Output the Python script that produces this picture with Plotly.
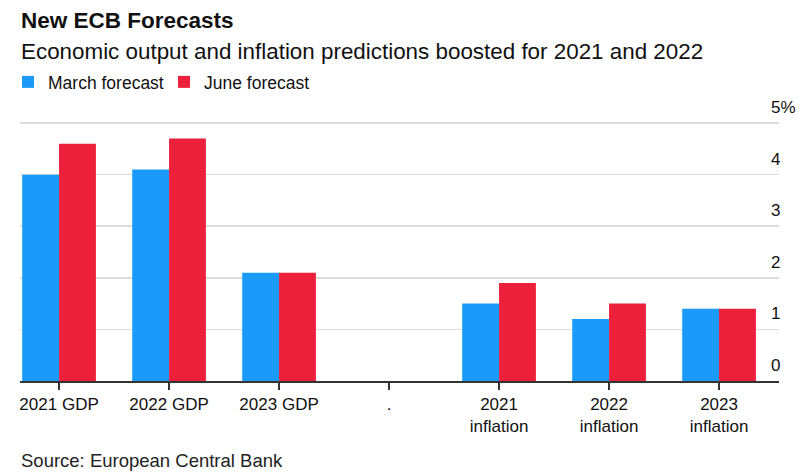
import plotly.graph_objects as go

categories = ["2021 GDP", "2022 GDP", "2023 GDP", ".", "2021<br>inflation", "2022<br>inflation", "2023<br>inflation"]
march = [4.0, 4.1, 2.1, None, 1.5, 1.2, 1.4]
june = [4.6, 4.7, 2.1, None, 1.9, 1.5, 1.4]
y_ticks = [0, 1, 2, 3, 4, 5]
y_tick_labels = ["0", "1", "2", "3", "4", "5%"]

FONT = "Liberation Sans, Arial, sans-serif"
BLUE = "#1a9bfa"
RED = "#ec203b"

W, H = 800, 473
PT, PB = 121, 381  # plot top / bottom in pixels
YMAX = 5.04

fig = go.Figure()
fig.add_trace(go.Bar(x=categories, y=march, name="March forecast", marker=dict(color=BLUE, line=dict(width=0))))
fig.add_trace(go.Bar(x=categories, y=june, name="June forecast", marker=dict(color=RED, line=dict(width=0))))

def py(pix):
    # pixel y (from top) -> paper y
    return (PB - pix) / (PB - PT)

fig.update_layout(
    width=W, height=H,
    margin=dict(l=20, r=21, t=PT, b=H - PB, autoexpand=False),
    paper_bgcolor="white", plot_bgcolor="white",
    barmode="group", bargap=0.33, bargroupgap=0,
    font=dict(family=FONT, size=17, color="#111"),
    showlegend=True,
    legend=dict(orientation="h", xref="container", yref="container", x=0.01, y=1 - 82/473,
                xanchor="left", yanchor="middle", font=dict(size=17.5, color="#111"),
                itemwidth=30, traceorder="normal", entrywidthmode="pixels", entrywidth=111,
                bgcolor="rgba(0,0,0,0)"),
    xaxis=dict(
        type="category", range=[-0.355, 6.545], showgrid=False, automargin=False,
        showline=True, linecolor="#333", linewidth=1.5,
        ticks="outside", ticklen=7, tickcolor="#333", tickwidth=1.5,
        tickfont=dict(size=17, color="#111"), fixedrange=True,
    ),
    yaxis=dict(
        side="right", range=[0, YMAX], tickvals=y_ticks, ticktext=y_tick_labels, automargin=False,
        showgrid=True, gridcolor="#dcdcdc", gridwidth=1.5, zeroline=False,
        ticks="", ticklabelposition="outside top", ticklabelstandoff=-9, ticklabelshift=-4,
        tickfont=dict(size=17, color="#111"), fixedrange=True,
    ),
    annotations=[
        dict(text="<b>New ECB Forecasts</b>", xref="paper", yref="paper", x=0, y=py(20),
             xanchor="left", yanchor="middle", showarrow=False, font=dict(size=22.5, color="#111"), xshift=-1),
        dict(text="Economic output and inflation predictions boosted for 2021 and 2022", xref="paper", yref="paper",
             x=0, y=py(51), xanchor="left", yanchor="middle", showarrow=False,
             font=dict(size=22.4, color="#111"), xshift=-1),
        dict(text="Source: European Central Bank", xref="paper", yref="paper", x=0, y=py(460),
             xanchor="left", yanchor="middle", showarrow=False,
             font=dict(size=18.5, color="#222"), xshift=-1),
    ],
)

fig.write_html("out.html", config={"displayModeBar": False, "staticPlot": True},
               post_script="document.body.style.margin='0';document.body.style.overflow='hidden';")
